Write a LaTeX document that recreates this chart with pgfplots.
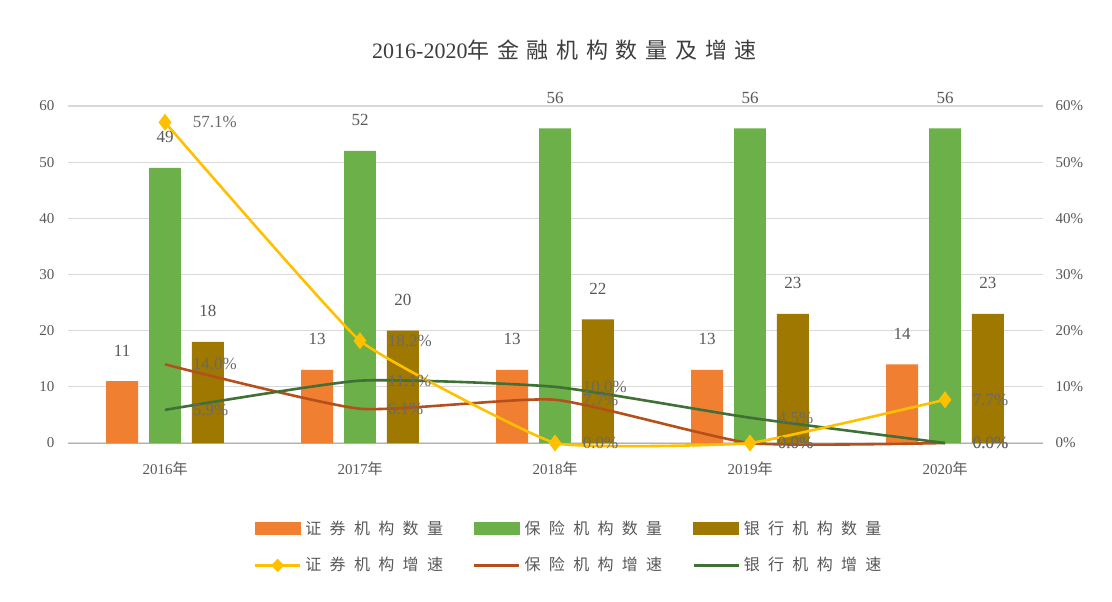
\documentclass[border=0pt]{standalone}
\usepackage{pgfplots}
\pgfplotsset{compat=1.18}
\usepackage{fontspec}
\setmainfont{Liberation Serif}
\newfontfamily\cjk{Noto Sans CJK SC}
\newfontfamily\cjkl{Noto Sans CJK SC}[LetterSpace=35]
\newfontfamily\cjkw{Noto Sans CJK SC}[LetterSpace=52]
\definecolor{cOr}{HTML}{F07F32}
\definecolor{cGr}{HTML}{6BB048}
\definecolor{cGd}{HTML}{9E7800}
\definecolor{lYe}{HTML}{FFC000}
\definecolor{lRd}{HTML}{B5501C}
\definecolor{lGn}{HTML}{3F7035}
\definecolor{txt}{HTML}{595959}
\definecolor{grd}{HTML}{D9D9D9}
\begin{document}
\begin{tikzpicture}
\path[use as bounding box, fill=white] (-33.75pt,-79pt) rectangle (522.25pt,221.5pt);
\node[text=txt!70!black, font=\fontsize{11}{13}\selectfont] at (248.5pt,196.5pt) {2016-2020{\cjkl 年金融机构数量及增速}};
\begin{axis}[
  at={(0pt,0pt)}, anchor=south west, scale only axis,
  width=487.5pt, height=168.5pt,
  xmin=-0.5, xmax=4.5, ymin=0, ymax=60,
  ytick={0,10,...,60}, xtick={0,...,4},
  xticklabels={2016{\cjk 年},2017{\cjk 年},2018{\cjk 年},2019{\cjk 年},2020{\cjk 年}},
  axis lines*=left,
  y axis line style={draw=none},
  x axis line style={draw=black!30},
  major tick length=0pt,
  ymajorgrids, grid style={grd, line width=0.6pt},
  tick label style={text=txt, font=\fontsize{7.5}{9}\selectfont},
  xticklabel style={yshift=-6pt},
  yticklabel style={xshift=-3pt},
  /pgf/number format/assume math mode=true,
  ybar,
  bar width=0.164,
  nodes near coords,
  every node near coord/.append style={text=txt, font=\fontsize{8.5}{10}\selectfont, yshift=9pt},
]
\addplot[bar shift=-0.22, fill=cOr, draw=none] coordinates {(0,11) (1,13) (2,13) (3,13) (4,14)};
\addplot[bar shift=0, fill=cGr, draw=none] coordinates {(0,49) (1,52) (2,56) (3,56) (4,56)};
\addplot[bar shift=0.22, fill=cGd, draw=none] coordinates {(0,18) (1,20) (2,22) (3,23) (4,23)};
\end{axis}
\begin{axis}[
  at={(0pt,0pt)}, anchor=south west, scale only axis,
  width=487.5pt, height=168.5pt,
  xmin=-0.5, xmax=4.5, ymin=0, ymax=60,
  ytick={0,10,...,60},
  yticklabel={\pgfmathprintnumber{\tick}\%},
  axis y line*=right, axis x line=none,
  y axis line style={draw=none},
  major tick length=0pt,
  clip=false,
  tick label style={text=txt, font=\fontsize{7.5}{9}\selectfont},
  yticklabel style={xshift=3pt},
  /pgf/number format/assume math mode=true,
  nodes near coords={\pgfmathprintnumber[fixed,precision=1,zerofill]{\pgfplotspointmeta}\%},
  every node near coord/.append style={text=txt!90, font=\fontsize{8.5}{10}\selectfont, anchor=west, xshift=10pt},
  legend columns=3,
  legend style={at={(0.515,-0.309)}, anchor=center, draw=none, fill=none,
    font=\cjkw\fontsize{8}{10}\selectfont, text=txt,
    /tikz/every even column/.append style={column sep=13pt},
    row sep=6pt},
  legend cell align=left,
]
\addlegendimage{legend image code/.code={\fill[cOr] (0pt,-3pt) rectangle (22.5pt,3pt);}}
\addlegendentry{证券机构数量}
\addlegendimage{legend image code/.code={\fill[cGr] (0pt,-3pt) rectangle (22.5pt,3pt);}}
\addlegendentry{保险机构数量}
\addlegendimage{legend image code/.code={\fill[cGd] (0pt,-3pt) rectangle (22.5pt,3pt);}}
\addlegendentry{银行机构数量}
\addlegendimage{legend image code/.code={\draw[lYe, line width=1.3pt] (0pt,0pt) -- (22.5pt,0pt); \fill[lYe] (11.25pt,3pt) -- (14.25pt,0pt) -- (11.25pt,-3pt) -- (8.25pt,0pt) -- cycle;}}
\addlegendentry{证券机构增速}
\addlegendimage{legend image code/.code={\draw[lRd, line width=1.3pt] (0pt,0pt) -- (22.5pt,0pt);}}
\addlegendentry{保险机构增速}
\addlegendimage{legend image code/.code={\draw[lGn, line width=1.3pt] (0pt,0pt) -- (22.5pt,0pt);}}
\addlegendentry{银行机构增速}
\addplot[forget plot, lRd, line width=1.3pt, smooth, tension=0.3, mark=none] coordinates {(0,14.0) (1,6.1) (2,7.7) (3,0.0) (4,0.0)};
\addplot[forget plot, lGn, line width=1.3pt, smooth, tension=0.3, mark=none] coordinates {(0,5.9) (1,11.1) (2,10.0) (3,4.5) (4,0.0)};
\addplot[forget plot, lYe, line width=1.3pt, smooth, tension=0.2, mark=diamond*, mark size=3.2pt, mark options={fill=lYe, draw=lYe}] coordinates {(0,57.1) (1,18.2) (2,0.0) (3,0.0) (4,7.7)};
\end{axis}
\end{tikzpicture}
\end{document}
